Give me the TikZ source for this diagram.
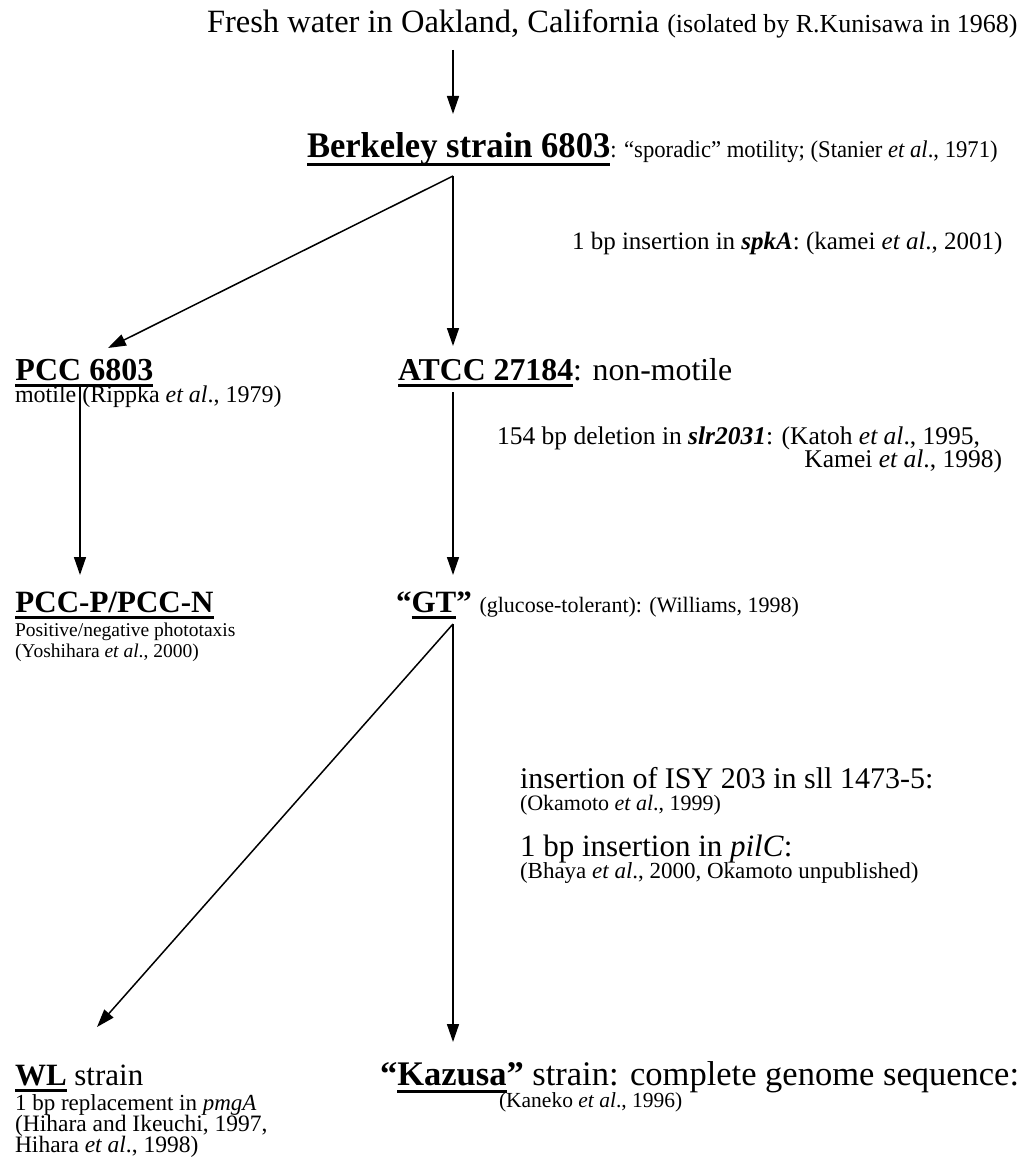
\documentclass[tikz,border=0pt]{standalone}
\usepackage{fontspec}
\usepackage{graphicx}
\setmainfont{Liberation Serif}
\usetikzlibrary{arrows.meta}
\newcommand{\fs}[1]{\fontsize{#1}{#1}\selectfont}
\newcommand{\myul}[1]{\begingroup\setbox0\hbox{#1}\rlap{\copy0}\rlap{\rule[-0.22em]{\wd0}{0.085em}}\hskip\wd0\endgroup}
\tikzset{
  txt/.style={inner sep=0pt, outer sep=0pt, anchor=base west},
  arr/.style={line width=1.5pt, -{Triangle[length=18pt,width=12pt]}}
}
\begin{document}
\begin{tikzpicture}[x=1pt,y=-1pt]
\useasboundingbox[fill=white] (0,0) rectangle (1033,1174);

\node[txt] (top) at (207,33) {\fs{32.5}Fresh water in Oakland, California \fs{26}(isolated by R.Kunisawa in 1968)};
\node[txt] (berk) at (307,158) {\scalebox{0.96}[1]{\fs{36}\myul{\textbf{Berkeley strain 6803}}}\scalebox{0.945}[1]{\fs{24}: “sporadic” motility; (Stanier \textit{et al}., 1971)}};
\node[txt] (spka) at (572,249) {\fs{25}1 bp insertion in \textbf{\textit{spkA}}: (kamei \textit{et al}., 2001)};
\node[txt] (pcc) at (15,380) {\fs{32}\myul{\textbf{PCC 6803}}};
\node[txt] (pccd) at (15,402) {\fs{24}motile (Rippka \textit{et al}., 1979)};
\node[txt] (atcc) at (398,380) {\fs{31.8}\myul{\textbf{ATCC 27184}}: non-motile};
\node[txt] (slr) at (497,444) {\fs{25.5}154 bp deletion in \textbf{\textit{slr2031}}: (Katoh \textit{et al}., 1995,};
\node[txt,anchor=base east] (slr2) at (1002,467) {\fs{25.5}Kamei \textit{et al}., 1998)};
\node[txt] (pccp) at (15,612) {\fs{31}\myul{\textbf{PCC-P/PCC-N}}};
\node[txt] (pccp1) at (15,636) {\fs{19.5}Positive/negative phototaxis};
\node[txt] (pccp2) at (15,657) {\fs{19.5}(Yoshihara \textit{et al}., 2000)};
\node[txt] (gt) at (396,612) {\fs{31}\textbf{“\myul{GT}”} \fs{22}(glucose-tolerant): (Williams, 1998)};
\node[txt] (isy) at (520,788) {\fs{30}insertion of ISY 203 in sll 1473-5:};
\node[txt] (isy2) at (520,810) {\fs{22}(Okamoto \textit{et al}., 1999)};
\node[txt] (pilc) at (520,856) {\fs{31}1 bp insertion in \textit{pilC}:};
\node[txt] (pilc2) at (520,878) {\fs{23}(Bhaya \textit{et al}., 2000, Okamoto unpublished)};
\node[txt] (wl) at (15,1085) {\fs{31}\myul{\textbf{WL}} strain};
\node[txt] (wl1) at (15,1110) {\fs{23}1 bp replacement in \textit{pmgA}};
\node[txt] (wl2) at (15,1131) {\fs{23.5}(Hihara and Ikeuchi, 1997,};
\node[txt] (wl3) at (15,1152) {\fs{23.5}Hihara \textit{et al}., 1998)};
\node[txt] (kaz) at (380,1085) {\fs{34.5}\textbf{“\myul{Kazusa}”} strain: complete genome sequence:};
\node[txt] (kaz2) at (499,1107) {\fs{21.5}(Kaneko \textit{et al}., 1996)};

\coordinate (topout) at (453,50);
\coordinate (berkin) at (453,114);
\coordinate (berkout) at (453,176);
\coordinate (pccin) at (108,348);
\coordinate (atccin) at (453,346);
\coordinate (pccout) at (80,387);
\coordinate (pccpin) at (80,575);
\coordinate (atccout) at (453,392);
\coordinate (gtin) at (453,575);
\coordinate (gtout) at (453,624);
\coordinate (wlin) at (97,1027);
\coordinate (kazin) at (453,1042);

\draw[arr] (topout) -- (berkin);
\draw[arr] (berkout) -- (pccin);
\draw[arr] (berkout) -- (atccin);
\draw[arr] (pccout) -- (pccpin);
\draw[arr] (atccout) -- (gtin);
\draw[arr] (gtout) -- (wlin);
\draw[arr] (gtout) -- (kazin);
\end{tikzpicture}
\end{document}
